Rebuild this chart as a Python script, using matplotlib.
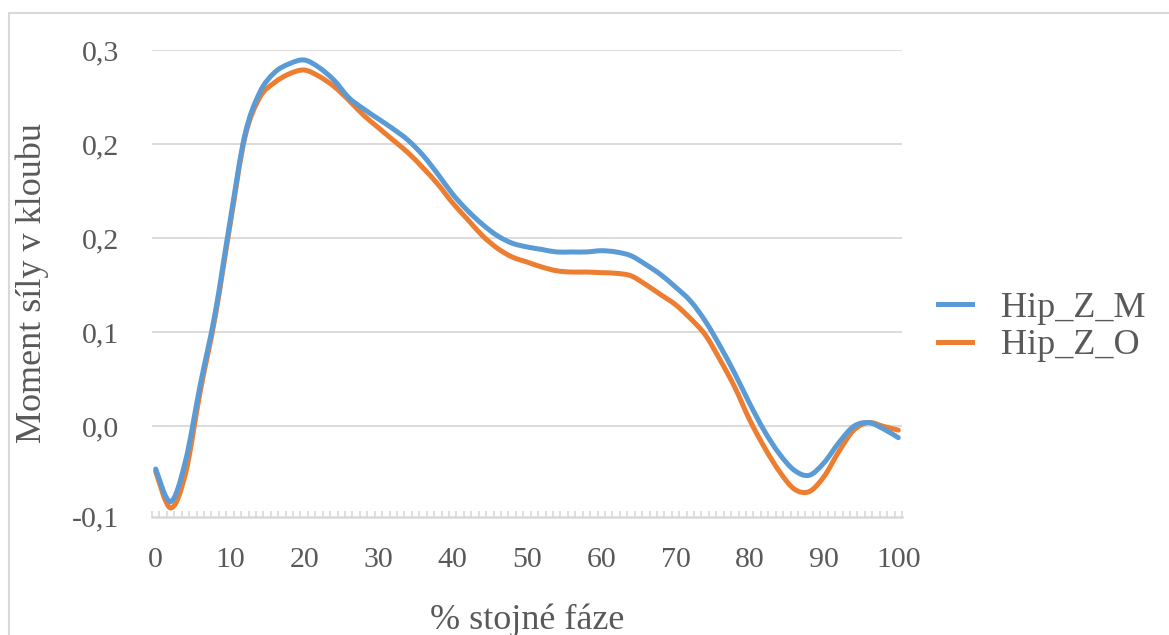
import matplotlib
matplotlib.use('Agg')
import matplotlib.pyplot as plt
from matplotlib.patches import Rectangle, PathPatch
from matplotlib.path import Path
from matplotlib.lines import Line2D

plt.rcParams['font.family'] = ['Liberation Serif', 'DejaVu Serif']

# % of stance phase, sampled every 2 %
faze = list(range(0, 101, 2))

hip_z_m = [-0.034, -0.060, -0.028, 0.033, 0.090, 0.163, 0.232, 0.266, 0.282, 0.289,
           0.292, 0.286, 0.276, 0.262, 0.253, 0.245, 0.237, 0.228, 0.216, 0.201,
           0.185, 0.172, 0.161, 0.152, 0.146, 0.143, 0.141, 0.139, 0.139, 0.139,
           0.140, 0.139, 0.136, 0.129, 0.121, 0.111, 0.100, 0.084, 0.064, 0.042,
           0.018, -0.004, -0.022, -0.035, -0.039, -0.029, -0.013, 0.000, 0.003, -0.002,
           -0.009]

hip_z_o = [-0.036, -0.065, -0.038, 0.028, 0.087, 0.160, 0.230, 0.262, 0.274, 0.281,
           0.284, 0.279, 0.271, 0.260, 0.248, 0.238, 0.228, 0.218, 0.206, 0.193,
           0.178, 0.165, 0.152, 0.142, 0.135, 0.131, 0.127, 0.124, 0.123, 0.123,
           0.1225, 0.122, 0.120, 0.113, 0.105, 0.097, 0.086, 0.073, 0.053, 0.031,
           0.005, -0.017, -0.036, -0.050, -0.052, -0.040, -0.020, -0.003, 0.003, 0.000,
           -0.003]

y_ticks = [-0.072, 0.0, 0.075, 0.15, 0.225, 0.3]
y_labels = ['-0,1', '0,0', '0,1', '0,2', '0,2', '0,3']
x_ticks = list(range(0, 101, 10))

text_col = '#595959'
grid_col = '#d9d9d9'
c_m = '#5B9BD5'
c_o = '#ED7D31'


def smooth_path(xs, ys):
    # Catmull-Rom through the points, written as cubic Bezier segments
    n = len(xs)
    verts = [(xs[0], ys[0])]
    codes = [Path.MOVETO]
    for i in range(n - 1):
        i0 = max(i - 1, 0)
        i3 = min(i + 2, n - 1)
        c1 = (xs[i] + (xs[i + 1] - xs[i0]) / 6, ys[i] + (ys[i + 1] - ys[i0]) / 6)
        c2 = (xs[i + 1] - (xs[i3] - xs[i]) / 6, ys[i + 1] - (ys[i3] - ys[i]) / 6)
        verts += [c1, c2, (xs[i + 1], ys[i + 1])]
        codes += [Path.CURVE4] * 3
    return Path(verts, codes)


fig = plt.figure(figsize=(11.69, 6.35), dpi=100)
ax = fig.add_axes([0.130, 0.1863, 0.6416, 0.7350])

# chart area border
fig.patches.append(Rectangle((9 / 1169, -0.1), 1.2, 1 - 13 / 635 + 0.1,
                             transform=fig.transFigure, fill=False,
                             edgecolor=grid_col, linewidth=1.5))

ax.add_patch(PathPatch(smooth_path(faze, hip_z_o), fill=False, edgecolor=c_o,
                       lw=3.6, joinstyle='round', capstyle='round', zorder=2))
ax.add_patch(PathPatch(smooth_path(faze, hip_z_m), fill=False, edgecolor=c_m,
                       lw=3.6, joinstyle='round', capstyle='round', zorder=3))

ax.set_xlim(-0.5, 100.5)
ax.set_ylim(-0.072, 0.3)

for v in y_ticks[1:]:
    ax.axhline(v, color=grid_col, lw=1.3, zorder=1)

for s in ['top', 'right', 'left']:
    ax.spines[s].set_visible(False)
ax.spines['bottom'].set_color(grid_col)
ax.spines['bottom'].set_linewidth(1.8)

ax.set_yticks(y_ticks)
ax.set_yticklabels(y_labels)
ax.set_xticks(x_ticks)
ax.set_xticklabels([str(v) for v in x_ticks])
ax.set_xticks([i - 0.5 for i in range(102)], minor=True)
ax.tick_params(axis='y', length=0, pad=24, labelsize=21.5, labelcolor=text_col)
ax.tick_params(axis='x', which='major', length=0, pad=22, labelsize=21.5,
               labelcolor=text_col)
ax.tick_params(axis='x', which='minor', direction='in', length=4, width=1.2,
               color=grid_col)

ax.set_xlabel('% stojné fáze', fontsize=26, color=text_col, labelpad=22)
ax.set_ylabel('Moment síly v kloubu', fontsize=26, color=text_col, labelpad=16)

handles = [Line2D([], [], color=c_m, lw=3.6), Line2D([], [], color=c_o, lw=3.6)]
fig.legend(handles, ['Hip_Z_M', 'Hip_Z_O'], loc='center left',
           bbox_to_anchor=(938 / 1169, 1 - 327 / 635),
           frameon=False, fontsize=26, handlelength=0.95, handletextpad=0.8,
           labelspacing=0.12, borderpad=0, borderaxespad=0, labelcolor=text_col)

plt.savefig('out.png', dpi=100)
